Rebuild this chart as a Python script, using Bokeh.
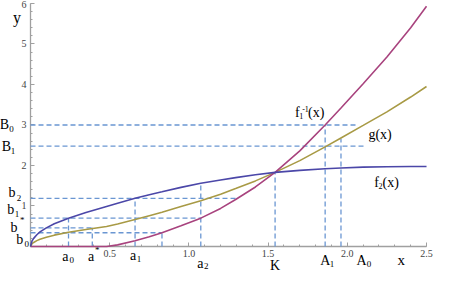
from bokeh.plotting import figure
from bokeh.models import FixedTicker, NumeralTickFormatter, Range1d
from bokeh.core.properties import value
from bokeh.embed import file_html
from bokeh.resources import INLINE

# ---- data ----
x_pts = [0.00, 0.01, 0.02, 0.04, 0.06, 0.10, 0.15, 0.24, 0.35, 0.48, 0.55, 0.66, 0.75,
         0.83, 0.95, 1.075, 1.20, 1.295, 1.42, 1.544, 1.70, 1.86, 1.96, 2.10, 2.25, 2.40, 2.50]
f2_vals = [0.00, 0.14, 0.20, 0.29, 0.36, 0.46, 0.56, 0.70, 0.84, 0.99, 1.07, 1.19, 1.28,
           1.35, 1.46, 1.56, 1.64, 1.70, 1.77, 1.83, 1.88, 1.92, 1.94, 1.96, 1.97, 1.975, 1.975]
f1inv_vals = [0.00, 0.00, 0.00, 0.00, 0.00, 0.00, 0.00, 0.00, 0.00, 0.00, 0.04, 0.14, 0.24,
              0.34, 0.51, 0.70, 0.94, 1.16, 1.47, 1.83, 2.36, 3.00, 3.42, 4.02, 4.68, 5.40, 5.93]
g_vals = [0.00, 0.07, 0.10, 0.145, 0.18, 0.23, 0.28, 0.35, 0.42, 0.495, 0.555, 0.665, 0.76,
          0.845, 0.985, 1.13, 1.29, 1.43, 1.62, 1.83, 2.12, 2.46, 2.68, 2.99, 3.325, 3.69, 3.95]

# marked abscissae and ordinates
a0, a_star, a1, a2, K, A1, A0 = 0.24, 0.39, 0.66, 1.075, 1.544, 1.86, 1.96
b0, b_star, b1, b2, B1, B0 = 0.34, 0.46, 0.70, 1.19, 2.48, 3.00

# dashed guide lines
h_y = [b0, b_star, b1, b2, B1, B0]
h_x_end = [0.83, a_star, a2, 1.295, 2.11, 2.06]
v_x = [0.83, a0, a_star, a1, a2, K, A1, A0]
v_y_top = [b0, b1, b_star, b2, 1.56, 1.83, B0, 2.66]

x_major = [0.5, 1.0, 1.5, 2.0, 2.5]
x_minor = [i / 10 for i in range(1, 26)]
y_major = [1, 2, 3, 4, 5, 6]
y_minor = [i / 5 for i in range(1, 31)]

# ---- figure ----
W, H = 436, 272
p = figure(width=W, height=H, output_backend="svg", toolbar_location=None,
           x_range=Range1d(-0.1894, 2.563), y_range=Range1d(-0.642, 6.074),
           min_border=0, outline_line_color=None)
p.grid.visible = False
p.background_fill_color = "white"
p.border_fill_color = "white"

for ax, ticks, minor, fmt, bnd in ((p.xaxis, x_major, x_minor, "0.0", (0, 2.5)),
                                   (p.yaxis, y_major, y_minor, "0", (0, 6))):
    ax.fixed_location = 0
    ax.bounds = bnd
    ax.ticker = FixedTicker(ticks=ticks, minor_ticks=minor)
    ax.formatter = NumeralTickFormatter(format=fmt)
    ax.axis_line_color = "#a0a0a0"
    ax.axis_line_width = 1.3
    ax.major_tick_line_color = "#a0a0a0"
    ax.minor_tick_line_color = "#a0a0a0"
    ax.major_tick_in = 4
    ax.major_tick_out = 0
    ax.minor_tick_in = 2
    ax.minor_tick_out = 0
    ax.major_label_text_font = "Liberation Serif"
    ax.major_label_text_font_size = "10px"
    ax.major_label_text_color = "#444444"
    ax.major_label_standoff = 4
    ax.level = "underlay"

dash_col = "#6A96D2"
p.segment(x0=[0] * len(h_y), y0=h_y, x1=h_x_end, y1=h_y,
          line_color=dash_col, line_width=1.3, line_dash="5 3")
p.segment(x0=v_x, y0=[0] * len(v_x), x1=v_x, y1=v_y_top,
          line_color=dash_col, line_width=1.3, line_dash="5 3")

p.line(x_pts, g_vals, line_color="#A89A45", line_width=1.6)
p.line(x_pts, f1inv_vals, line_color="#A8437E", line_width=1.6)
p.line(x_pts, f2_vals, line_color="#4B47A8", line_width=1.6)

# ---- labels (positions given in reference pixels, converted to data) ----
def rx(X):
    return (X - 34) / 163.6

def ry(Y):
    return (261.5 - Y) / 42.67

SERIF = value("Liberation Serif")

def lab(X, Y, s, size=14, color="black", align="center"):
    p.text(x=[rx(X)], y=[ry(Y)], text=[s], text_font=SERIF,
           text_font_size=f"{size}px", text_color=color,
           text_align=align, text_baseline="middle")

# axis names
lab(20, 20, "y", 16)
lab(417, 276, "x", 15)

# y-side labels: base + subscript/superscript
for base, bX, bY, sub, sX, sY in (("B", 7, 133, "0", 14.5, 137.5),
                                  ("B", 9, 156.5, "1", 16, 160.5),
                                  ("b", 15, 205, "2", 22, 210),
                                  ("b", 13.5, 223, "1", 20, 227.5),
                                  ("b", 17, 241.5, "*", 25.5, 234),
                                  ("b", 23, 254.5, "0", 30, 258.5)):
    lab(bX, bY, base, 14)
    lab(sX, sY, sub, 9)

# x-side labels
for base, bX, bY, sub, sX, sY in (("a", 70, 272, "0", 76.5, 275.5),
                                  ("a", 96.5, 272, "*", 103, 265.5),
                                  ("a", 140, 271, "1", 146, 274.5),
                                  ("a", 209.5, 279, "2", 215.5, 282.5),
                                  ("A", 338.5, 276, "1", 345.5, 279.5),
                                  ("A", 376, 276, "0", 383.5, 279.5)):
    lab(bX, bY, base, 14)
    lab(sX, sY, sub, 9)
lab(286.5, 282, "K", 14)

# curve labels
lab(309.5, 120, "f", 14)
lab(313.5, 123.5, "1", 8)
lab(318, 116.5, "-1", 8)
lab(329, 120, "(x)", 14)
lab(395, 143, "g(x)", 14)
lab(391.5, 194, "f", 14)
lab(395.5, 197.5, "2", 8)
lab(406, 194, "(x)", 14)

open("out.html", "w").write(file_html(p, INLINE))
